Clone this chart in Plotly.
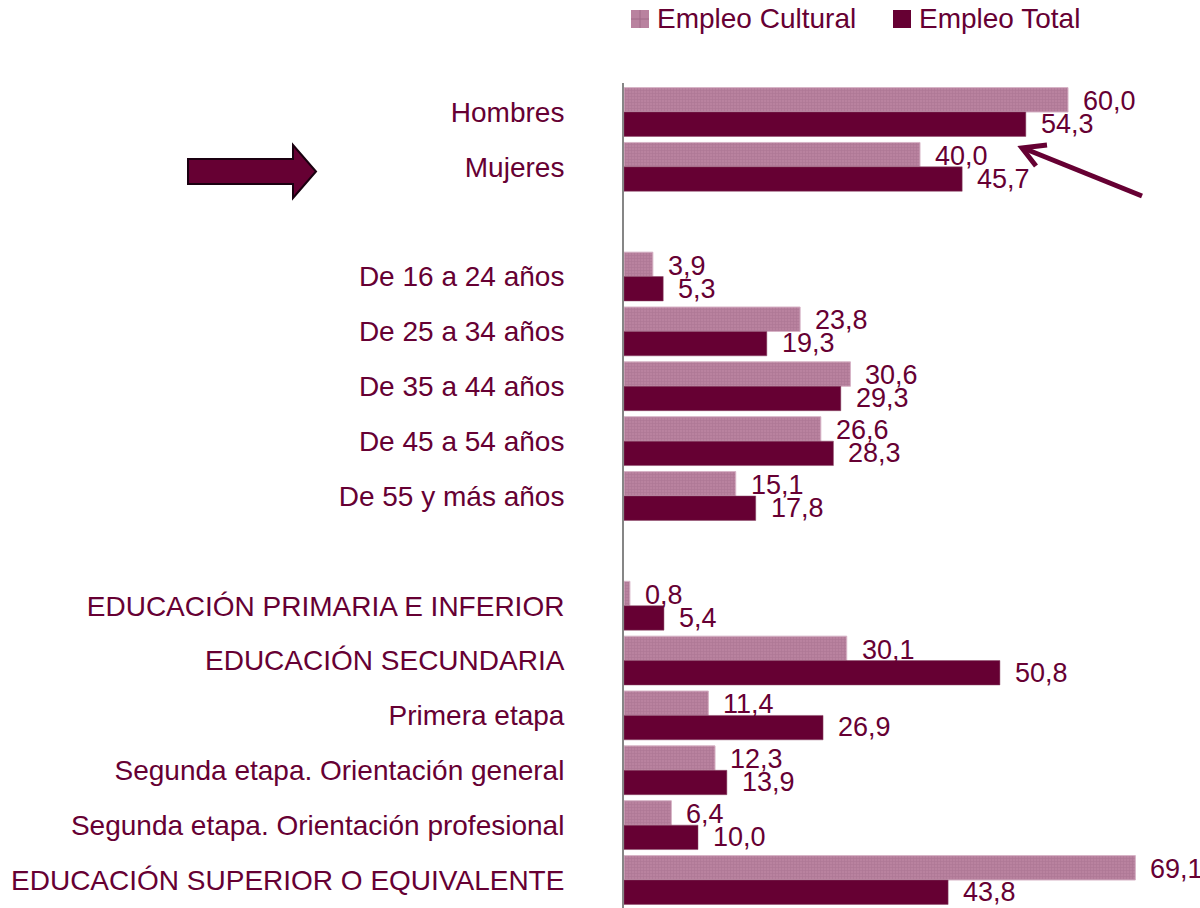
import plotly.graph_objects as go

categories = [
    "Hombres", "Mujeres", " ",
    "De 16 a 24 años", "De 25 a 34 años", "De 35 a 44 años", "De 45 a 54 años", "De 55 y más años", "  ",
    "EDUCACIÓN PRIMARIA E INFERIOR", "EDUCACIÓN SECUNDARIA", "Primera etapa",
    "Segunda etapa. Orientación general", "Segunda etapa. Orientación profesional",
    "EDUCACIÓN SUPERIOR O EQUIVALENTE",
]
empleo_cultural = [60.0, 40.0, None, 3.9, 23.8, 30.6, 26.6, 15.1, None, 0.8, 30.1, 11.4, 12.3, 6.4, 69.1]
empleo_total = [54.3, 45.7, None, 5.3, 19.3, 29.3, 28.3, 17.8, None, 5.4, 50.8, 26.9, 13.9, 10.0, 43.8]
series_names = ["Empleo Cultural", "Empleo Total"]

W, H = 1200, 908
ML, MT = 624, 83
PW, PH = W - ML, H - MT
PX_PER_UNIT = 7.4
DARK = "#660033"
LIGHT = "#b9829f"
FONT = "Liberation Sans, Arial, sans-serif"
FS = 28
FS_LABEL = 27


def px(x):
    return (x - ML) / PW


def py(y):
    return (H - y) / PH


def fmt(v):
    return f"{v:.1f}".replace(".", ",")


fig = go.Figure()
fig.add_trace(go.Bar(
    y=categories, x=empleo_cultural, orientation="h", name=series_names[0],
    marker=dict(color=LIGHT, line=dict(color="#d7b3c6", width=1),
                pattern=dict(shape="+", size=3, solidity=0.35, fgcolor="#a06a88")),
    showlegend=False, hoverinfo="skip",
))
fig.add_trace(go.Bar(
    y=categories, x=empleo_total, orientation="h", name=series_names[1],
    marker=dict(color=DARK, line=dict(color="#8a4a68", width=0.5)),
    showlegend=False, hoverinfo="skip",
))

annotations = []
for vals, ys in ((empleo_cultural, 11), (empleo_total, -12)):
    for cat, v in zip(categories, vals):
        if v is None:
            continue
        annotations.append(dict(
            x=v, y=cat, xref="x", yref="y", text=fmt(v), showarrow=False,
            xanchor="left", yanchor="middle", xshift=13, yshift=ys,
            font=dict(family=FONT, size=FS_LABEL, color=DARK),
        ))

# manual legend
legend_items = [(631, LIGHT, series_names[0]), (893, DARK, series_names[1])]
shapes = []
for x0, col, name in legend_items:
    shapes.append(dict(type="rect", xref="paper", yref="paper",
                       x0=px(x0), x1=px(x0 + 18), y0=py(28), y1=py(10),
                       fillcolor=col, line=dict(width=0)))
    if col == LIGHT:
        shapes.append(dict(type="line", xref="paper", yref="paper",
                           x0=px(x0 + 9), x1=px(x0 + 9), y0=py(28), y1=py(10),
                           line=dict(color="#a06a88", width=1)))
        shapes.append(dict(type="line", xref="paper", yref="paper",
                           x0=px(x0), x1=px(x0 + 18), y0=py(19), y1=py(19),
                           line=dict(color="#a06a88", width=1)))
    annotations.append(dict(
        x=px(x0 + 24), y=py(19), xref="paper", yref="paper", text=name,
        showarrow=False, xanchor="left", yanchor="middle",
        font=dict(family=FONT, size=FS, color=DARK),
    ))

# block arrow on the left
pts = [(188, 159), (293, 159), (293, 145), (316, 171.5), (293, 198), (293, 184), (188, 184)]
path = "M " + " L ".join(f"{px(a):.5f},{py(b):.5f}" for a, b in pts) + " Z"
shapes.append(dict(type="path", xref="paper", yref="paper", path=path,
                   fillcolor=DARK, line=dict(color="#1a0010", width=2)))

# line arrow on the right
shapes.append(dict(type="line", xref="paper", yref="paper",
                   x0=px(1142), y0=py(196), x1=px(1023), y1=py(148),
                   line=dict(color=DARK, width=5)))
chev = [(1047, 145), (1022, 148), (1036, 166)]
cpath = "M " + " L ".join(f"{px(a):.5f},{py(b):.5f}" for a, b in chev)
shapes.append(dict(type="path", xref="paper", yref="paper", path=cpath,
                   line=dict(color=DARK, width=5)))

fig.update_layout(
    width=W, height=H,
    margin=dict(l=ML, r=0, t=MT, b=0, pad=0),
    paper_bgcolor="white", plot_bgcolor="white",
    barmode="group", bargap=0.11, bargroupgap=0,
    annotations=annotations, shapes=shapes,
    hovermode=False,
    xaxis=dict(range=[0, PW / PX_PER_UNIT], visible=False, showgrid=False, zeroline=False),
    yaxis=dict(
        autorange="reversed", type="category", categoryorder="array", categoryarray=categories,
        showline=True, linecolor="#868686", linewidth=2, ticks="",
        ticklabelstandoff=52, showgrid=False,
        tickfont=dict(family=FONT, size=FS, color=DARK),
    ),
)

fig.write_html(
    "out.html",
    config={"displayModeBar": False},
    post_script="document.body.style.margin='0';document.body.style.padding='0';",
)
